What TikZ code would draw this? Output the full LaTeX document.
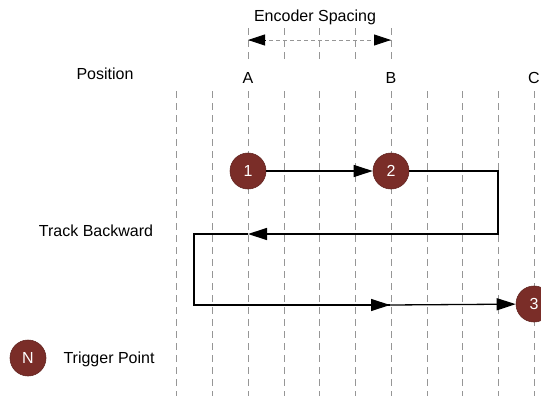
\documentclass[tikz,border=0pt]{standalone}
\usepackage{fontspec}
\setmainfont{Liberation Sans}
\usetikzlibrary{arrows.meta,calc}
\definecolor{trig}{RGB}{122,45,40}
\definecolor{grid}{RGB}{150,150,150}
\tikzset{
  trigger/.style={circle,fill=trig,draw=trig!80!black,line width=0.6pt,minimum size=36pt,inner sep=0pt,text=white,font=\fontsize{16}{16}\selectfont},
  lbl/.style={font=\fontsize{16}{16}\selectfont,inner sep=0pt},
  gridline/.style={draw=grid,line width=0.9pt,dash pattern=on 7pt off 5pt},
  track/.style={draw=black,line width=1.3pt},
  tip/.style={-{Triangle[length=19pt,width=12pt]}}
}
\begin{document}
\begin{tikzpicture}[x=1pt,y=-1pt]
\useasboundingbox (0,0) rectangle (541,399);
% grid lines
\foreach \x in {176,212,248,284,319,355,391,427,462,498,534}
  \draw[gridline] (\x,91) -- (\x,396);
\foreach \x in {248,284,319,355,391}
  \draw[gridline] (\x,28) -- (\x,62);
% labels
\node[lbl] (enc) at (315,17) {Encoder Spacing};
\node[lbl] (pos) at (105,74) {Position};
\node[lbl] (la) at (248,78) {A};
\node[lbl] (lb) at (391,78) {B};
\node[lbl] (lc) at (534,78) {C};
\node[lbl] (tb) at (96,231) {Track Backward};
\node[lbl] (tp) at (109,359) {Trigger Point};
% encoder spacing arrow
\coordinate (ea) at (248,40);
\coordinate (eb) at (391,40);
\draw[draw=grid,line width=0.9pt,dash pattern=on 4pt off 3pt] (ea) -- (eb);
\draw[line width=0.9pt,-{Triangle[length=17pt,width=11pt]}] ($(ea)+(17,0)$) -- (ea);
\draw[line width=0.9pt,-{Triangle[length=17pt,width=11pt]}] ($(eb)+(-17,0)$) -- (eb);
% trigger points
\node[trigger] (p1) at (248,171) {1};
\node[trigger] (p2) at (391,171) {2};
\node[trigger] (p3) at (534,304) {3};
\node[trigger] (pn) at (28,358) {N};
% track
\coordinate (c1) at (498,171);
\coordinate (c2) at (498,234);
\coordinate (amid) at (248,234);
\coordinate (c3) at (194,234);
\coordinate (c4) at (194,305);
\coordinate (bmid) at (390,305);
\draw[track,tip] (p1) -- (p2);
\draw[track,tip] (p2.east) -- (c1) -- (c2) -- (amid);
\draw[track] (amid) -- (c3) -- (c4) -- (bmid);
\draw[track,tip] (c4) -- (bmid);
\draw[track,tip] (bmid) -- (p3);
\end{tikzpicture}
\end{document}
